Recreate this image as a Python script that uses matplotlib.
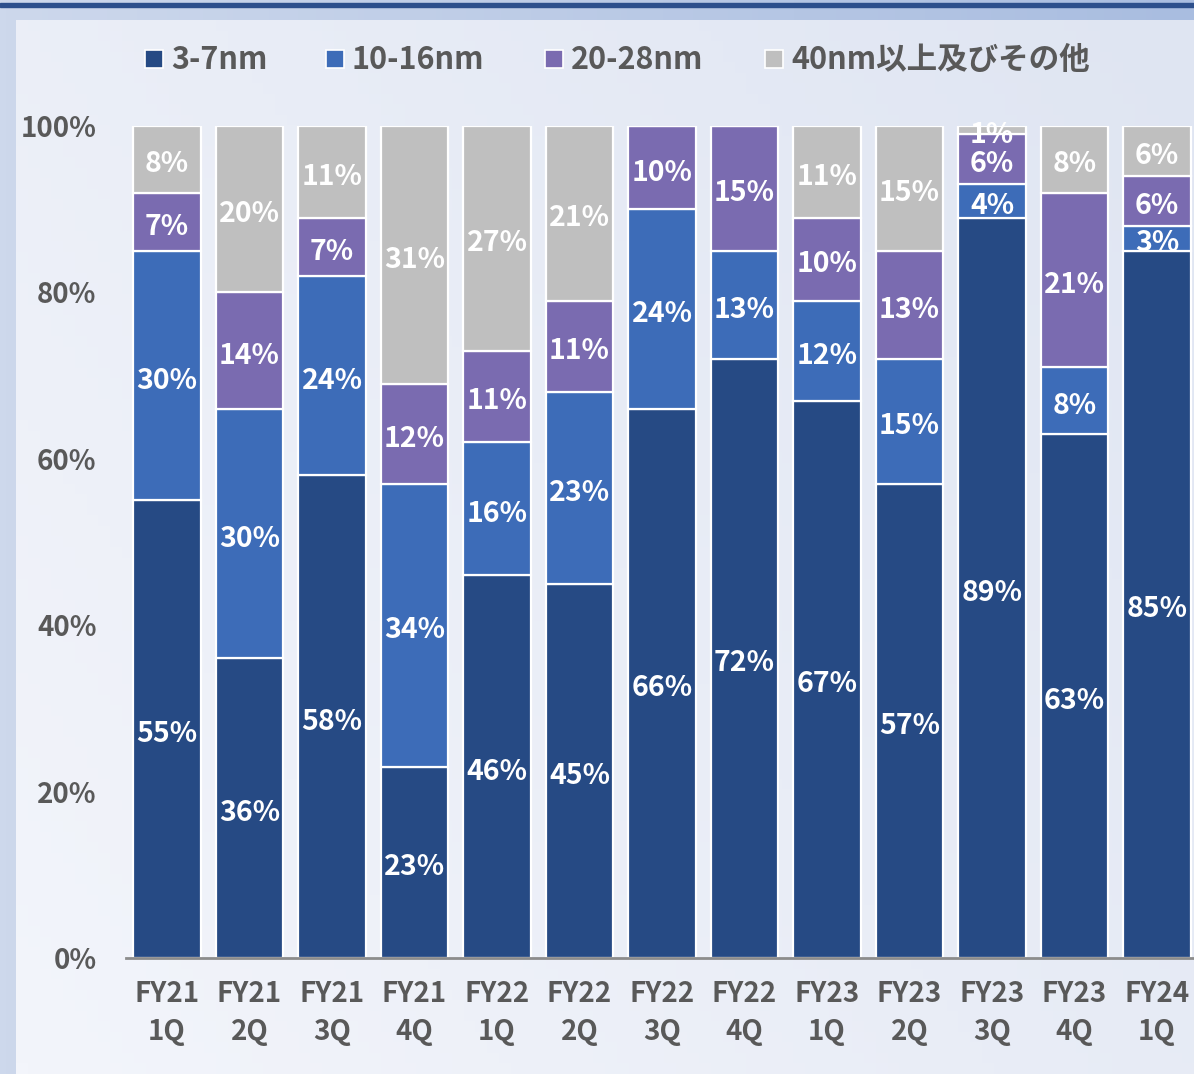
import matplotlib
import matplotlib.pyplot as plt
import numpy as np
from matplotlib.patches import Rectangle
from matplotlib.transforms import offset_copy

matplotlib.use("Agg")
plt.rcParams["font.family"] = ["Noto Sans CJK JP", "DejaVu Sans"]

# data (percent share per node)
quarters = ["FY21\n1Q", "FY21\n2Q", "FY21\n3Q", "FY21\n4Q", "FY22\n1Q", "FY22\n2Q",
            "FY22\n3Q", "FY22\n4Q", "FY23\n1Q", "FY23\n2Q", "FY23\n3Q", "FY23\n4Q", "FY24\n1Q"]
series_names = ["3-7nm", "10-16nm", "20-28nm", "40nm以上及びその他"]
nm_3_7 = [55, 36, 58, 23, 46, 45, 66, 72, 67, 57, 89, 63, 85]
nm_10_16 = [30, 30, 24, 34, 16, 23, 24, 13, 12, 15, 4, 8, 3]
nm_20_28 = [7, 14, 7, 12, 11, 11, 10, 15, 10, 13, 6, 21, 6]
nm_40_other = [8, 20, 11, 31, 27, 21, 0, 0, 11, 15, 1, 8, 6]

COLORS = ["#264a84", "#3d6cb8", "#7a6bb0", "#bfbfbf"]
TEXT_GRAY = "#595959"

W, H = 1194, 1074
fig = plt.figure(figsize=(W / 100, H / 100), dpi=100)
fig.patch.set_facecolor("#c9d5ea")

# outer frame gradient
bg = fig.add_axes([0, 0, 1, 1], zorder=-10)
gx = np.linspace(0, 1, 200)
outer = np.tile(gx, (2, 1))
bg.imshow(outer, cmap=matplotlib.colors.LinearSegmentedColormap.from_list("o", ["#cdd8ec", "#a9bde0"]),
          aspect="auto", extent=[0, 1, 0, 1])
bg.add_patch(Rectangle((0, 1 - 7 / H), 1, 4 / H, color="#2c4f8c", transform=bg.transAxes))
bg.set_xlim(0, 1)
bg.set_ylim(0, 1)
bg.axis("off")

# inner panel gradient
panel = fig.add_axes([16 / W, 0, 1 - 16 / W, 1 - 20 / H], zorder=-9)
yy, xx = np.mgrid[0:1:100j, 0:1:100j]
grad = 0.6 * xx + 0.4 * (1 - yy)
panel.imshow(grad, cmap=matplotlib.colors.LinearSegmentedColormap.from_list("p", ["#f3f5fb", "#dfe5f2"]),
             aspect="auto", extent=[0, 1, 0, 1], origin="upper")
panel.axis("off")

# main chart
ax = fig.add_axes([125.75 / W, 116 / H, 1072.5 / W, 832 / H])
ax.patch.set_alpha(0)
x = np.arange(len(quarters))
label_tr = offset_copy(ax.transData, fig=fig, y=-5, units="dots")
bottom = np.zeros(len(quarters))
for name, vals, color in zip(series_names, [nm_3_7, nm_10_16, nm_20_28, nm_40_other], COLORS):
    vals = np.array(vals, dtype=float)
    ax.bar(x, vals, 0.82, bottom=bottom, color=color, edgecolor="white", linewidth=1.6,
           label=name, zorder=2)
    for i, v in enumerate(vals):
        if v > 0:
            ax.text(x[i], bottom[i] + v / 2, f"{int(v)}%", ha="center", va="center",
                    fontsize=20.5, fontweight="bold", color="white", zorder=3,
                    transform=label_tr)
    bottom += vals

ax.set_xlim(-0.5, len(quarters) - 0.5)
ax.set_ylim(0, 100)
ax.set_yticks(range(0, 101, 20))
ax.set_yticklabels([f"{v}%" for v in range(0, 101, 20)])
ax.set_xticks(x)
ax.set_xticklabels(quarters, linespacing=1.45)
ax.tick_params(axis="both", length=0, labelsize=20, labelcolor=TEXT_GRAY)
ax.tick_params(axis="y", pad=21)
ax.tick_params(axis="x", pad=16)
for lab in ax.get_xticklabels() + ax.get_yticklabels():
    lab.set_fontweight("bold")
for side in ["top", "right", "left"]:
    ax.spines[side].set_visible(False)
ax.spines["bottom"].set_color("#8c8c8c")
ax.spines["bottom"].set_linewidth(2)

# legend, laid out by hand to match the spacing of the original
legend_x = [145, 326, 545, 765]
for px, name, color in zip(legend_x, series_names, COLORS):
    fig.patches.append(Rectangle((px / W, 1 - 68 / H), 18 / W, 18 / H, facecolor=color,
                                 edgecolor="white", linewidth=1.2, transform=fig.transFigure,
                                 figure=fig))
    fig.text((px + 26) / W, 1 - 60 / H, name, ha="left", va="center", fontsize=22,
             fontweight="bold", color=TEXT_GRAY)

fig.savefig("out.png", dpi=100)
